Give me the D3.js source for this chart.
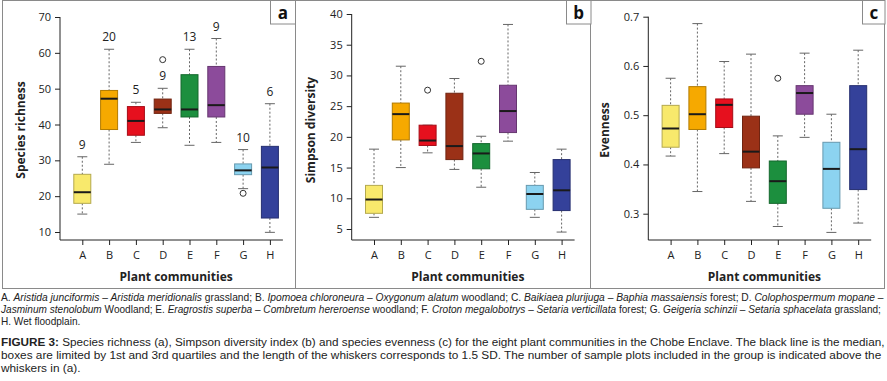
<!DOCTYPE html>
<html>
<head>
<meta charset="utf-8">
<script src="https://cdn.jsdelivr.net/npm/d3@7"></script>
<style>
  body { margin: 0; background: #fff; }
  svg { display: block; }
</style>
</head>
<body>
<div id="chart"></div>
<script>
// plant communities and box colours
var communities = ["A", "B", "C", "D", "E", "F", "G", "H"];
var fills = ["#f8e96c", "#f6a900", "#e6101e", "#9b3117", "#1c8f3e", "#8c4b9b", "#8cd3f0", "#34419a"];

// [lower whisker, Q1, median, Q3, upper whisker]
var richness = [
  [15, 18, 21.1, 26.1, 31],
  [28.9, 38.6, 47.2, 49.5, 61],
  [35, 37, 41, 45, 46.2],
  [39.1, 43.1, 44.2, 47.1, 50.1],
  [34.2, 42.1, 44.2, 53.9, 61],
  [35, 42.1, 45.4, 56.2, 64],
  [22.1, 26, 27.2, 29, 33],
  [9.9, 13.9, 28, 33.9, 45.8]
];
var richnessOutliers = [[], [], [], [58.1], [], [], [20.8], []];
var richnessN = [9, 20, 5, 9, 13, 9, 10, 6];

var simpson = [
  [6.9, 7.55, 9.8, 12.1, 18],
  [15, 19.5, 23.7, 25.5, 31.5],
  [17.4, 18.6, 19.4, 21.9, 21.9],
  [14.7, 16.3, 18.5, 27.1, 29.5],
  [11.8, 14.8, 17.3, 18.9, 20.1],
  [19.3, 20.7, 24.2, 28.4, 38.3],
  [6.9, 8.2, 10.7, 12.1, 14.2],
  [4.5, 8, 11.3, 16.3, 18]
];
var simpsonOutliers = [[], [], [27.6], [], [32.3], [], [], []];

var evenness = [
  [0.417, 0.435, 0.473, 0.52, 0.575],
  [0.345, 0.471, 0.502, 0.558, 0.686],
  [0.422, 0.475, 0.521, 0.533, 0.609],
  [0.325, 0.393, 0.426, 0.498, 0.624],
  [0.274, 0.321, 0.366, 0.407, 0.458],
  [0.455, 0.502, 0.545, 0.56, 0.626],
  [0.262, 0.311, 0.391, 0.445, 0.502],
  [0.281, 0.349, 0.431, 0.56, 0.632]
];
var evennessOutliers = [[], [], [], [], [0.575], [], [], []];

var richnessTicks = [10, 20, 30, 40, 50, 60, 70];
var simpsonTicks = [5, 10, 15, 20, 25, 30, 35, 40];
var evennessTicks = [0.3, 0.4, 0.5, 0.6, 0.7];

var width = 887,
    height = 381,
    font = "'Open Sans', sans-serif";

var svg = d3.select("#chart").append("svg")
  .attr("width", width)
  .attr("height", height);

// frame round the three panels
svg.append("rect")
  .attr("x", 2.5).attr("y", 0.5)
  .attr("width", 882).attr("height", 288)
  .attr("fill", "none").attr("stroke", "#8a8a8a");

[295.5, 590.5].forEach(function(x) {
  svg.append("line")
    .attr("x1", x).attr("x2", x).attr("y1", 0.5).attr("y2", 288.5)
    .attr("stroke", "#8a8a8a");
});

var panels = [
  { letter: "a", title: "Species richness", stats: richness, outliers: richnessOutliers,
    counts: richnessN, ticks: richnessTicks, fmt: d3.format("d"),
    axisX: 60, domain: [10, 70], range: [232, 17], tagX: 270, tagW: 25, titleDx: 39 },
  { letter: "b", title: "Simpson diversity", stats: simpson, outliers: simpsonOutliers,
    counts: null, ticks: simpsonTicks, fmt: d3.format("d"),
    axisX: 351.7, domain: [5, 40], range: [229, 14], tagX: 566, tagW: 24.5, titleDx: 40.7 },
  { letter: "c", title: "Evenness", stats: evenness, outliers: evennessOutliers,
    counts: null, ticks: evennessTicks, fmt: d3.format(".1f"),
    axisX: 648.3, domain: [0.3, 0.7], range: [213.7, 16.7], tagX: 862, tagW: 22.5, titleDx: 43 }
];

var axisY = 240,
    step = 26.8,
    boxW = 17,
    capW = 10;

panels.forEach(function(p) {
  var g = svg.append("g");

  var x = d3.scalePoint()
    .domain(communities)
    .range([p.axisX + 22.3, p.axisX + 22.3 + 7 * step]);

  var y = d3.scaleLinear()
    .domain(p.domain)
    .range(p.range);

  // panel letter box
  g.append("rect")
    .attr("x", p.tagX + 0.5).attr("y", 0.5)
    .attr("width", p.tagW).attr("height", 23.5)
    .attr("fill", "#fff").attr("stroke", "#8a8a8a");
  g.append("text")
    .attr("x", p.tagX + p.tagW / 2 + 0.5).attr("y", 19)
    .attr("text-anchor", "middle")
    .style("font", "bold 17px " + font)
    .attr("fill", "#111")
    .text(p.letter);

  // y axis
  var yAxis = g.append("g")
    .attr("transform", "translate(" + p.axisX + ",0)")
    .call(d3.axisLeft(y).tickValues(p.ticks).tickFormat(p.fmt).tickSize(5).tickPadding(4));
  yAxis.select(".domain").remove();
  yAxis.selectAll("line").attr("stroke", "#222");
  yAxis.selectAll("text").style("font", "11px " + font).attr("fill", "#222");

  // x axis
  var xAxis = g.append("g")
    .attr("transform", "translate(0," + axisY + ")")
    .call(d3.axisBottom(x).tickSize(5).tickPadding(6));
  xAxis.select(".domain").remove();
  xAxis.selectAll("line").attr("stroke", "#222");
  xAxis.selectAll("text").style("font", "11px " + font).attr("fill", "#222");

  // L-shaped axis lines
  g.append("path")
    .attr("d", "M" + p.axisX + "," + y(p.domain[1]) + "V" + axisY + "H" + (x("H") + 13))
    .attr("fill", "none").attr("stroke", "#222");

  g.append("text")
    .attr("x", (x("A") + x("H")) / 2).attr("y", 281)
    .attr("text-anchor", "middle")
    .style("font", "bold 12px " + font)
    .attr("fill", "#222")
    .text("Plant communities");

  g.append("text")
    .attr("transform", "translate(" + (p.axisX - p.titleDx + 4) + ",130) rotate(-90)")
    .attr("text-anchor", "middle")
    .style("font", "bold 12px " + font)
    .attr("fill", "#222")
    .text(p.title);

  var boxes = g.selectAll(".box")
    .data(p.stats)
    .enter().append("g")
    .attr("class", "box")
    .attr("transform", function(d, i) { return "translate(" + x(communities[i]) + ",0)"; });

  // dotted whiskers
  boxes.append("line")
    .attr("y1", function(d) { return y(d[4]); })
    .attr("y2", function(d) { return y(d[3]); })
    .attr("stroke", "#666").attr("stroke-dasharray", "2,2");
  boxes.append("line")
    .attr("y1", function(d) { return y(d[1]); })
    .attr("y2", function(d) { return y(d[0]); })
    .attr("stroke", "#666").attr("stroke-dasharray", "2,2");

  // caps
  boxes.append("line")
    .attr("x1", -capW / 2).attr("x2", capW / 2)
    .attr("y1", function(d) { return y(d[4]); })
    .attr("y2", function(d) { return y(d[4]); })
    .attr("stroke", "#666");
  boxes.append("line")
    .attr("x1", -capW / 2).attr("x2", capW / 2)
    .attr("y1", function(d) { return y(d[0]); })
    .attr("y2", function(d) { return y(d[0]); })
    .attr("stroke", "#666");

  boxes.append("rect")
    .attr("x", -boxW / 2)
    .attr("width", boxW)
    .attr("y", function(d) { return y(d[3]); })
    .attr("height", function(d) { return y(d[1]) - y(d[3]); })
    .attr("fill", function(d, i) { return fills[i]; })
    .attr("stroke", function(d, i) { return d3.color(fills[i]).darker(0.9); });

  boxes.append("line")
    .attr("x1", -boxW / 2).attr("x2", boxW / 2)
    .attr("y1", function(d) { return y(d[2]); })
    .attr("y2", function(d) { return y(d[2]); })
    .attr("stroke", "#1a1a1a").attr("stroke-width", 2);

  boxes.each(function(d, i) {
    d3.select(this).selectAll("circle")
      .data(p.outliers[i])
      .enter().append("circle")
      .attr("r", 3)
      .attr("cy", function(v) { return y(v); })
      .attr("fill", "none")
      .attr("stroke", "#333");
  });

  if (p.counts) {
    boxes.append("text")
      .attr("y", function(d) { return y(d[4]) - 8; })
      .attr("text-anchor", "middle")
      .style("font", "12px " + font)
      .attr("fill", "#222")
      .text(function(d, i) { return p.counts[i]; });
  }
});

// caption
var capFont = "'Liberation Sans Narrow', 'Liberation Sans', sans-serif";

var legendLines = [
  [["A. ", 0], ["Aristida junciformis – Aristida meridionalis", 1], [" grassland; B. ", 0],
   ["Ipomoea chloroneura – Oxygonum alatum", 1], [" woodland; C. ", 0],
   ["Baikiaea plurijuga – Baphia massaiensis", 1], [" forest; D. ", 0], ["Colophospermum mopane –", 1]],
  [["Jasminum stenolobum", 1], [" Woodland; E. ", 0], ["Eragrostis superba – Combretum hereroense", 1],
   [" woodland; F. ", 0], ["Croton megalobotrys – Setaria verticillata", 1], [" forest; G. ", 0],
   ["Geigeria schinzii – Setaria sphacelata", 1], [" grassland;", 0]],
  [["H. Wet floodplain.", 0]]
];
var figureLines = [
  [["FIGURE 3:", 2], [" Species richness (a), Simpson diversity index (b) and species evenness (c) for the eight plant communities in the Chobe Enclave. The black line is the median,", 0]],
  [["boxes are limited by 1st and 3rd quartiles and the length of the whiskers corresponds to 1.5 SD. The number of sample plots included in the group is indicated above the", 0]],
  [["whiskers in (a).", 0]]
];

function caption(lines, y0, lineH, size, fullW) {
  var k = 1;
  lines.forEach(function(parts, li) {
    var t = svg.append("text")
      .attr("y", y0 + li * lineH)
      .style("font-family", capFont)
      .style("font-size", size + "px")
      .attr("fill", "#222");
    parts.forEach(function(s) {
      t.append("tspan")
        .style("font-style", s[1] === 1 ? "italic" : "normal")
        .style("font-weight", s[1] === 2 ? "bold" : "normal")
        .text(s[0]);
    });
    var w = t.node().getComputedTextLength();
    if (li < fullW.length) k = fullW[li] / w;
    t.attr("transform", "translate(1,0) scale(" + k + ",1)");
  });
}

caption(legendLines, 301, 12, 10.5, [884, 881]);
caption(figureLines, 346.5, 13, 11.5, [884, 881]);
</script>
</body>
</html>
